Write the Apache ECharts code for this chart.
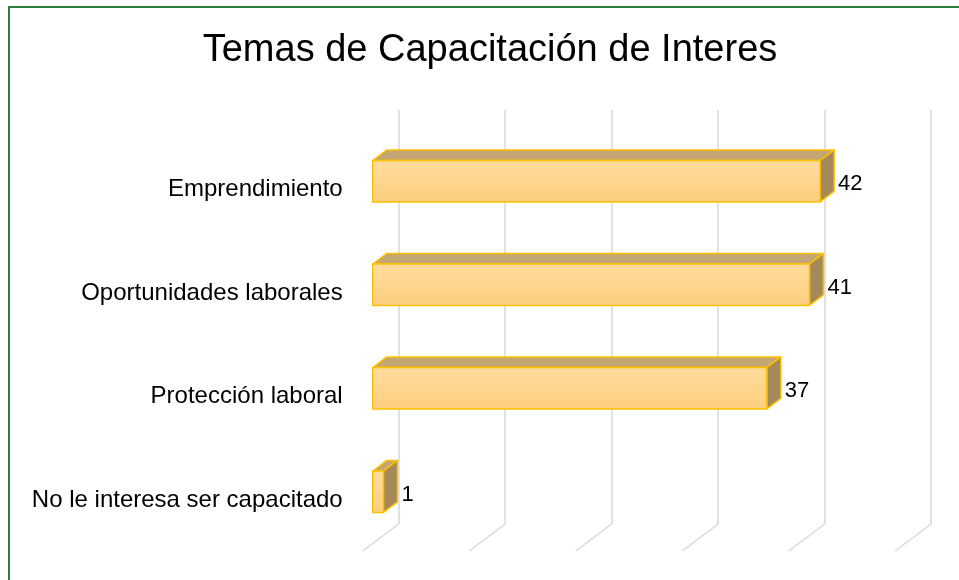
<!DOCTYPE html>
<html>
  <head>
    <meta charset="utf-8" />
    <title>Temas de Capacitación de Interes</title>
    <style>
      html, body { margin: 0; padding: 0; background: #fff; }
    </style>
  </head>
  <body>
    <div id="chart" style="width: 959px; height: 580px"></div>

    <script src="https://cdn.jsdelivr.net/npm/echarts@6/dist/echarts.min.js"></script>
    <script>
      const categories = [
        'Emprendimiento',
        'Oportunidades laborales',
        'Protección laboral',
        'No le interesa ser capacitado',
      ];
      const values = [42, 41, 37, 1];
      const ticks = [0, 10, 20, 30, 40, 50];

      // oblique "3d" depth vector, from back wall to front of floor
      const DX = -36;
      const DY = 27;
      const BACK = 0.33;
      const FRONT = 0.72;
      const FONT = 'Liberation Sans, Arial, sans-serif';

      function renderFloor(params, api) {
        const cs = params.coordSys;
        const x = api.coord([api.value(0), 0])[0];
        const yb = cs.y + cs.height;
        return {
          type: 'line',
          shape: { x1: x, y1: yb, x2: x + DX, y2: yb + DY },
          style: { stroke: '#d9d9d9', lineWidth: 1.5 },
          silent: true,
        };
      }

      function renderBar(params, api) {
        const cat = api.value(1);
        const val = api.value(0);
        const p0 = api.coord([0, cat]);
        const p1 = api.coord([val, cat]);
        const band = api.size([0, 1])[1];
        const h = band * 0.4;
        const cy = p0[1];

        const fx0 = p0[0] + DX * FRONT, fx1 = p1[0] + DX * FRONT;
        const fy = cy + DY * FRONT;
        const bx1 = p1[0] + DX * BACK;
        const bx0 = p0[0] + DX * BACK;
        const by = cy + DY * BACK;

        const edge = { stroke: '#FFC000', lineWidth: 1.5, lineJoin: 'round' };
        return {
          type: 'group',
          children: [
            {
              type: 'polygon',
              shape: { points: [[fx0, fy - h / 2], [fx1, fy - h / 2], [bx1, by - h / 2], [bx0, by - h / 2]] },
              style: Object.assign({ fill: '#C3A673' }, edge),
            },
            {
              type: 'polygon',
              shape: { points: [[fx1, fy - h / 2], [bx1, by - h / 2], [bx1, by + h / 2], [fx1, fy + h / 2]] },
              style: Object.assign({ fill: '#A5895A' }, edge),
            },
            {
              type: 'rect',
              shape: { x: fx0, y: fy - h / 2, width: fx1 - fx0, height: h },
              style: Object.assign({
                fill: new echarts.graphic.LinearGradient(0, 0, 0, 1, [
                  { offset: 0, color: '#FFDC9E' },
                  { offset: 1, color: '#FDCF7E' },
                ]),
              }, edge),
            },
            {
              type: 'text',
              style: {
                x: bx1 + 4,
                y: fy + 3,
                text: String(val),
                fill: '#000',
                font: '22px ' + FONT,
                verticalAlign: 'middle',
              },
            },
            {
              // category name, sitting at the front edge of the floor
              type: 'text',
              style: {
                x: p0[0] - 56,
                y: cy + DY + 1,
                text: categories[cat],
                fill: '#000',
                font: '24px ' + FONT,
                align: 'right',
                verticalAlign: 'middle',
              },
            },
          ],
        };
      }

      const chart = echarts.init(document.getElementById('chart'), null, {
        width: 959,
        height: 580,
      });

      chart.setOption({
        animation: false,
        backgroundColor: '#fff',
        graphic: [
          {
            type: 'rect',
            shape: { x: 9, y: 7, width: 1000, height: 1000 },
            style: { fill: 'none', stroke: '#2E7D3A', lineWidth: 2 },
            silent: true,
          },
          {
            type: 'text',
            style: {
              x: 490,
              y: 51,
              text: 'Temas de Capacitación de Interes',
              font: '38px ' + FONT,
              fill: '#000',
              align: 'center',
              verticalAlign: 'middle',
            },
          },
        ],
        grid: { left: 398.7, right: 27.8, top: 110, bottom: 56 },
        xAxis: {
          type: 'value',
          min: 0,
          max: 50,
          interval: 10,
          axisLine: { show: false },
          axisTick: { show: false },
          axisLabel: { show: false },
          splitLine: { show: true, lineStyle: { color: '#d9d9d9', width: 1.5 } },
        },
        yAxis: {
          type: 'category',
          data: categories,
          inverse: true,
          axisLine: { show: false },
          axisTick: { show: false },
          splitLine: { show: false },
          axisLabel: { show: false },
        },
        series: [
          {
            type: 'custom',
            renderItem: renderFloor,
            data: ticks.map((t) => [t, 0]),
            z: 1,
            silent: true,
          },
          {
            type: 'custom',
            renderItem: renderBar,
            data: values.map((v, i) => [v, i]),
            z: 2,
            silent: true,
          },
        ],
      });
    </script>
  </body>
</html>
